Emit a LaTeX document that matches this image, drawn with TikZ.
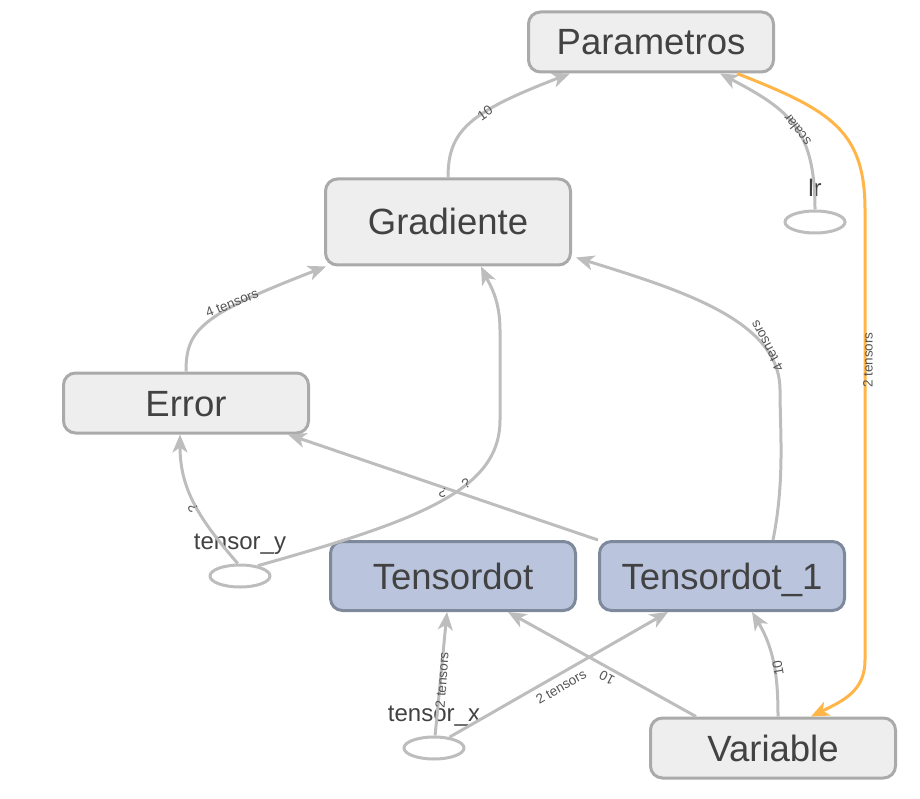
\documentclass[tikz,border=0pt]{standalone}
\usepackage{fontspec}
\setmainfont{Liberation Sans}
\usetikzlibrary{arrows.meta,shapes.geometric}
\definecolor{boxfill}{HTML}{EEEEEE}
\definecolor{boxdraw}{HTML}{AAAAAA}
\definecolor{tdfill}{HTML}{BAC5DD}
\definecolor{tddraw}{HTML}{7F899C}
\definecolor{edgecol}{HTML}{BDBDBD}
\definecolor{orangecol}{HTML}{FFB547}
\definecolor{txt}{HTML}{424242}
\definecolor{ltxt}{HTML}{555555}
\begin{document}
\begin{tikzpicture}[x=1pt,y=-1pt,
  opnode/.style={draw=boxdraw, fill=boxfill, line width=3pt, rounded corners=12pt,
    minimum width=245pt, minimum height=60pt, inner sep=0pt, text=txt,
    text height=26pt, text depth=0pt,
    font=\fontsize{36.5}{40}\selectfont},
  tdnode/.style={opnode, draw=tddraw, fill=tdfill, minimum height=69pt},
  inode/.style={ellipse, draw=edgecol, line width=3pt, minimum width=60pt, minimum height=22pt, inner sep=0pt},
  ilbl/.style={text=txt, font=\fontsize{24}{28}\selectfont, inner sep=0pt},
  edge/.style={draw=edgecol, line width=3pt, -{Stealth[length=18pt,width=15pt,inset=5pt]}},
  oedge/.style={draw=orangecol, line width=3pt, -{Stealth[length=18pt,width=15pt,inset=5pt]}},
  elab/.style={text=ltxt, font=\fontsize{13.5}{15}\selectfont, inner sep=0pt}
]
\useasboundingbox (0,0) rectangle (920,799);

% nodes
\node[opnode] (param) at (651,42) {Parametros};
\node[opnode, minimum height=86pt] (grad) at (448,222) {Gradiente};
\node[opnode] (err) at (186,403) {Error};
\node[tdnode] (td) at (453,576) {Tensordot};
\node[tdnode] (td1) at (722,576) {Tensordot\_1};
\node[opnode] (var) at (773,748) {Variable};

\node[inode] (lr) at (815,222) {};
\node[ilbl] (lrlab) at (815,188) {lr};
\node[inode] (ty) at (240,576) {};
\node[ilbl] (tylab) at (240,544) {tensor\_y};
\node[inode] (tx) at (434,748) {};
\node[ilbl] (txlab) at (434,716) {tensor\_x};

% edges
\draw[edge] (grad.north) .. controls (448,130) and (470,112) .. ([xshift=43pt]param.south west);
\draw[edge] (lr.north) .. controls (815,130) and (790,110) .. ([xshift=-55pt]param.south east);
\draw[oedge] ([xshift=-38pt]param.south east) .. controls (830,110) and (865,130) .. (865,210)
   -- (865,660) .. controls (865,690) and (845,700) .. ([xshift=162pt]var.north west);
\draw[edge] (err.north) .. controls (186,330) and (200,315) .. ([xshift=2pt]grad.south west);
\draw[edge] (ty.30) .. controls (420,520) and (500,490) .. (500,420) -- (500,330)
   .. controls (500,300) and (490,285) .. ([xshift=33pt]grad.south);
\draw[edge] ([xshift=51pt]td1.north) .. controls (785,480) and (780,430) .. (780,390)
   .. controls (780,320) and (680,290) .. ([xshift=4pt,yshift=9pt]grad.south east);
\draw[edge] (td1.north west) -- ([xshift=-22pt]err.south east);
\draw[edge] (ty.100) .. controls (200,520) and (180,490) .. ([xshift=-6pt]err.south);
\draw[edge] (tx.85) -- ([xshift=-6pt]td.south);
\draw[edge] (tx.35) -- ([xshift=70pt]td1.south west);
\draw[edge] ([xshift=47pt]var.north west) -- ([xshift=-69pt]td.south east);
\draw[edge] ([xshift=5pt]var.north) .. controls (778,680) and (775,650) .. ([xshift=30pt]td1.south);

% edge labels
\node[elab, rotate=35] (l1) at (485,113) {10};
\node[elab, rotate=128] (l2) at (797,130) {scalar};
\node[elab, rotate=90] (l3) at (868,360) {2 tensors};
\node[elab, rotate=22] (l4) at (232,303) {4 tensors};
\node[elab, rotate=30] (l5) at (466,484) {?};
\node[elab, rotate=118] (l6) at (767,346) {4 tensors};
\node[elab, rotate=162] (l7) at (443,493) {?};
\node[elab, rotate=118] (l8) at (193,508) {?};
\node[elab, rotate=86] (l9) at (442,680) {2 tensors};
\node[elab, rotate=30] (l10) at (561,687) {2 tensors};
\node[elab, rotate=152] (l11) at (607,678) {10};
\node[elab, rotate=100] (l12) at (778,668) {10};
\end{tikzpicture}
\end{document}
